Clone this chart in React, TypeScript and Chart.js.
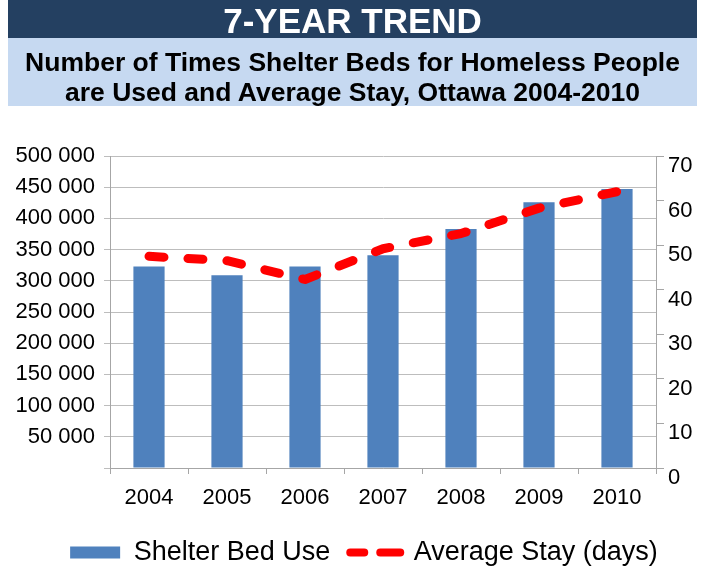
import React, { useEffect, useRef } from 'react';
import { Chart, registerables } from 'chart.js';

Chart.register(...registerables);

const years = ['2004', '2005', '2006', '2007', '2008', '2009', '2010'];
const shelterBedUse = [323000, 309000, 323000, 341000, 383000, 426000, 447000];
const averageStayDays = [47.5, 46.5, 42.3, 49.2, 52.6, 58.3, 62.0];
const leftAxisMax = 500000;
const leftAxisStep = 50000;
const rightAxisMax = 70;
const rightAxisStep = 10;
const seriesLabels = ['Shelter Bed Use', 'Average Stay (days)'];
const titleText = '7-YEAR TREND';
const subtitleLines = [
  'Number of Times Shelter Beds for Homeless People',
  'are Used and Average Stay, Ottawa 2004-2010',
];

const FONT = '"Liberation Sans", Arial, Helvetica, sans-serif';
const BAR_COLOR = '#4F81BD';
const LINE_COLOR = '#FF0000';
const GRID_COLOR = '#BDBDBD';
const AXIS_COLOR = '#A6A6A6';

function formatThousands(v: number): string {
  if (v === 0) return '';
  return String(v).replace(/\B(?=(\d{3})+(?!\d))/g, ' ');
}

// nudges the legend block so that it sits where the reference places it
const legendShift = {
  id: 'legendShift',
  afterLayout(chart: any) {
    const l = chart.legend;
    if (l) {
      l.left += 12;
      l.right += 12;
    }
  },
};

export default function App() {
  const ref = useRef<HTMLCanvasElement>(null);

  useEffect(() => {
    if (!ref.current) return;
    const chart = new Chart(ref.current, {
      type: 'bar',
      plugins: [legendShift],
      data: {
        labels: years,
        datasets: [
          {
            type: 'bar',
            label: seriesLabels[0],
            data: shelterBedUse,
            backgroundColor: BAR_COLOR,
            borderWidth: 0,
            barPercentage: 0.4,
            categoryPercentage: 1,
            yAxisID: 'y',
            order: 2,
          } as any,
          {
            type: 'line',
            label: seriesLabels[1],
            data: averageStayDays,
            borderColor: LINE_COLOR,
            backgroundColor: LINE_COLOR,
            borderWidth: 9,
            borderDash: [15, 24],
            borderCapStyle: 'round',
            borderJoinStyle: 'round',
            pointRadius: 0,
            tension: 0,
            fill: false,
            yAxisID: 'y1',
            order: 1,
          } as any,
        ],
      },
      options: {
        responsive: false,
        animation: false,
        layout: { padding: { top: 156, left: 0, right: 0, bottom: 0 } },
        plugins: {
          tooltip: { enabled: false },
          title: { display: false },
          legend: {
            position: 'bottom',
            maxHeight: 48,
            labels: {
              usePointStyle: true,
              pointStyleWidth: 50,
              boxHeight: 12,
              padding: 20,
              color: '#000',
              font: { family: FONT, size: 27 },
              generateLabels: () => [
                {
                  text: seriesLabels[0],
                  fillStyle: BAR_COLOR,
                  strokeStyle: BAR_COLOR,
                  lineWidth: 0,
                  pointStyle: 'rect',
                  hidden: false,
                  datasetIndex: 0,
                  fontColor: '#000',
                },
                {
                  text: seriesLabels[1],
                  fillStyle: 'rgba(0,0,0,0)',
                  strokeStyle: LINE_COLOR,
                  lineWidth: 8,
                  lineDash: [14, 16, 40, 10],
                  lineCap: 'round',
                  pointStyle: 'line',
                  hidden: false,
                  datasetIndex: 1,
                  fontColor: '#000',
                },
              ] as any,
            },
          } as any,
        },
        scales: {
          x: {
            grid: {
              display: true,
              drawOnChartArea: false,
              drawTicks: true,
              tickLength: 6,
              color: AXIS_COLOR,
              offset: true,
            },
            border: { display: true, color: AXIS_COLOR },
            ticks: {
              color: '#000',
              font: { family: FONT, size: 22 },
              padding: 11,
              maxRotation: 0,
              autoSkip: false,
            },
            afterFit: (s: any) => {
              s.height = 51;
            },
          },
          y: {
            position: 'left',
            min: 0,
            max: leftAxisMax,
            grid: {
              color: GRID_COLOR,
              drawTicks: true,
              tickLength: 6,
            },
            border: { display: true, color: AXIS_COLOR },
            ticks: {
              stepSize: leftAxisStep,
              color: '#000',
              font: { family: FONT, size: 22 },
              padding: 9,
              callback: (v: any) => formatThousands(Number(v)),
            },
            afterFit: (s: any) => {
              s.width = 110;
            },
          },
          y1: {
            position: 'right',
            min: 0,
            max: rightAxisMax,
            grid: {
              drawOnChartArea: false,
              drawTicks: true,
              tickLength: 8,
              color: AXIS_COLOR,
            },
            border: { display: true, color: AXIS_COLOR },
            ticks: {
              stepSize: rightAxisStep,
              color: '#000',
              font: { family: FONT, size: 22 },
              padding: 4,
              labelOffset: 10,
            },
            afterFit: (s: any) => {
              s.width = 48;
            },
          },
        },
      } as any,
    });
    return () => chart.destroy();
  }, []);

  return (
    <div
      style={{
        position: 'absolute',
        left: 0,
        top: 0,
        width: 704,
        height: 567,
        background: '#fff',
        overflow: 'hidden',
      }}
    >
      <canvas
        ref={ref}
        width={704}
        height={567}
        style={{ position: 'absolute', left: 0, top: 0, width: 704, height: 567 }}
      />
      <div
        style={{
          position: 'absolute',
          left: 8,
          top: 0,
          width: 689,
          height: 38,
          background: '#244061',
        }}
      />
      <div
        style={{
          position: 'absolute',
          left: 8,
          top: 38,
          width: 689,
          height: 68,
          background: '#C6D9F1',
        }}
      />
      <div
        style={{
          position: 'absolute',
          left: 8,
          top: 0,
          width: 689,
          textAlign: 'center',
          fontFamily: FONT,
          fontWeight: 'bold',
          fontSize: 35,
          lineHeight: '42px',
          color: '#fff',
          whiteSpace: 'nowrap',
        }}
      >
        {titleText}
      </div>
      <div
        style={{
          position: 'absolute',
          left: 8,
          top: 47,
          width: 689,
          textAlign: 'center',
          fontFamily: FONT,
          fontWeight: 'bold',
          fontSize: 26.5,
          lineHeight: '30px',
          color: '#000',
          whiteSpace: 'nowrap',
        }}
      >
        {subtitleLines.map((l) => (
          <div key={l}>{l}</div>
        ))}
      </div>
    </div>
  );
}
